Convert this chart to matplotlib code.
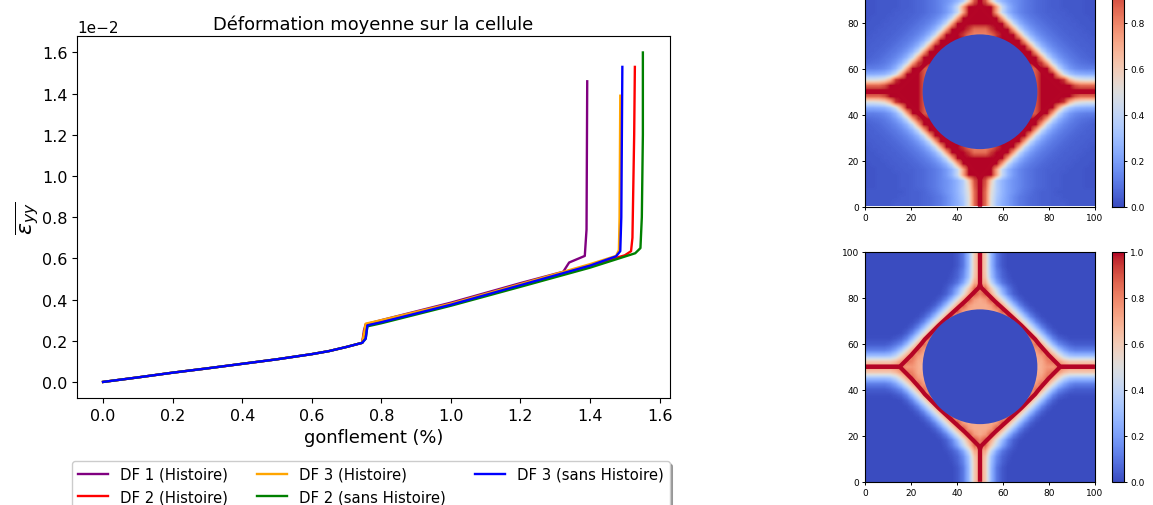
import matplotlib
matplotlib.use('Agg')
import numpy as np
import matplotlib.pyplot as plt
from matplotlib.patches import Circle

W, H = 1153, 506

# courbes, valeurs (deformation en absolu)
x_df1 = [0, 0.1, 0.2, 0.3, 0.4, 0.5, 0.6, 0.65, 0.7, 0.745, 0.75, 0.755, 0.8, 1.0, 1.2, 1.3, 1.323, 1.34, 1.385, 1.39, 1.392]
y_df1 = [0, 0.022, 0.045, 0.066, 0.088, 0.11, 0.135, 0.15, 0.17, 0.19, 0.25, 0.28, 0.30, 0.385, 0.48, 0.525, 0.535, 0.58, 0.612, 0.74, 1.46]
x_df2 = [0, 0.1, 0.2, 0.3, 0.4, 0.5, 0.6, 0.65, 0.7, 0.745, 0.752, 0.755, 0.8, 1.0, 1.2, 1.4, 1.5, 1.518, 1.522, 1.527, 1.529]
y_df2 = [0, 0.022, 0.045, 0.066, 0.088, 0.11, 0.135, 0.15, 0.17, 0.19, 0.25, 0.275, 0.295, 0.378, 0.47, 0.565, 0.615, 0.635, 0.70, 1.20, 1.53]
x_df3 = [0, 0.1, 0.2, 0.3, 0.4, 0.5, 0.6, 0.65, 0.7, 0.745, 0.752, 0.755, 0.8, 1.0, 1.2, 1.4, 1.475, 1.483, 1.485, 1.487]
y_df3 = [0, 0.022, 0.045, 0.066, 0.088, 0.11, 0.135, 0.15, 0.17, 0.19, 0.25, 0.283, 0.30, 0.38, 0.475, 0.572, 0.612, 0.64, 0.80, 1.39]
x_df2s = [0, 0.1, 0.2, 0.3, 0.4, 0.5, 0.6, 0.65, 0.7, 0.745, 0.755, 0.76, 0.8, 1.0, 1.2, 1.4, 1.53, 1.545, 1.549, 1.552, 1.552]
y_df2s = [0, 0.022, 0.045, 0.066, 0.088, 0.11, 0.135, 0.15, 0.17, 0.19, 0.21, 0.27, 0.285, 0.37, 0.462, 0.555, 0.625, 0.65, 0.80, 1.20, 1.60]
x_df3s = [0, 0.1, 0.2, 0.3, 0.4, 0.5, 0.6, 0.65, 0.7, 0.745, 0.755, 0.76, 0.8, 1.0, 1.2, 1.4, 1.475, 1.487, 1.49, 1.493]
y_df3s = [0, 0.022, 0.045, 0.066, 0.088, 0.11, 0.135, 0.15, 0.17, 0.19, 0.21, 0.275, 0.29, 0.375, 0.47, 0.565, 0.61, 0.635, 0.80, 1.53]

noms = ['DF 1 (Histoire)', 'DF 2 (Histoire)', 'DF 3 (Histoire)', 'DF 2 (sans Histoire)', 'DF 3 (sans Histoire)']
couleurs = ['purple', 'red', 'orange', 'green', 'blue']

# champ d'endommagement, quart haut gauche, lignes y=100..50, colonnes x=0..50 (pas 2.5)
champ_haut = [
    [.03, .03, .03, .03, .03, .04, .04, .04, .05, .05, .06, .07, .09, .11, .15, .20, .25, .32, .50, .85, 1.0],
    [.03, .03, .03, .03, .03, .03, .04, .04, .05, .05, .06, .07, .09, .11, .15, .20, .26, .34, .50, .85, 1.0],
    [.03, .03, .03, .03, .03, .03, .03, .04, .05, .05, .06, .08, .10, .13, .17, .21, .27, .36, .52, .85, 1.0],
    [.02, .02, .03, .03, .03, .03, .04, .04, .05, .06, .07, .09, .11, .14, .17, .21, .27, .36, .55, .88, 1.0],
    [.02, .02, .03, .03, .03, .03, .04, .04, .05, .06, .07, .09, .11, .14, .17, .21, .27, .36, .60, .90, 1.0],
    [.02, .02, .03, .03, .03, .03, .04, .04, .05, .06, .07, .09, .11, .14, .19, .27, .42, .72, 1.0, 1.0, 1.0],
    [.02, .02, .03, .03, .03, .04, .04, .05, .05, .06, .07, .09, .11, .14, .19, .27, .42, .72, 1.0, 1.0, 1.0],
    [.02, .03, .03, .03, .04, .04, .05, .05, .06, .07, .09, .11, .14, .19, .27, .42, .72, 1.0, 1.0, 1.0, 1.0],
    [.03, .03, .03, .04, .04, .05, .05, .06, .07, .09, .11, .14, .19, .27, .42, .72, 1.0, 1.0, 1.0, 1.0, 1.0],
    [.03, .03, .04, .04, .05, .05, .06, .07, .09, .11, .14, .19, .27, .42, .72, 1.0, 1.0, 1.0, .95, .85, .85],
    [.03, .04, .04, .05, .05, .06, .07, .09, .11, .14, .19, .27, .42, .72, 1.0, 1.0, 1.0, .95, .85, .80, .80],
    [.04, .04, .05, .05, .06, .07, .09, .11, .14, .19, .27, .42, .72, 1.0, 1.0, 1.0, 1.0, 1.0, .75, .75, .75],
    [.04, .05, .05, .06, .07, .09, .11, .14, .19, .27, .42, .72, 1.0, 1.0, 1.0, 1.0, 1.0, 1.0, .75, .75, .75],
    [.05, .05, .06, .07, .09, .11, .14, .19, .27, .42, .72, 1.0, 1.0, 1.0, 1.0, 1.0, 1.0, 1.0, .75, .75, .75],
    [.05, .06, .07, .09, .11, .14, .19, .27, .42, .72, 1.0, 1.0, 1.0, 1.0, 1.0, 1.0, 1.0, 1.0, .75, .75, .75],
    [.07, .08, .09, .11, .14, .19, .27, .42, .72, .95, 1.0, 1.0, 1.0, 1.0, 1.0, 1.0, 1.0, 1.0, .75, .75, .75],
    [.12, .12, .13, .15, .19, .27, .42, .72, 1.0, 1.0, .90, .85, .75, .75, .75, .75, .75, .75, .75, .75, .75],
    [.24, .24, .25, .27, .33, .45, .72, 1.0, 1.0, 1.0, .90, .80, .75, .75, .75, .75, .75, .75, .75, .75, .75],
    [.48, .48, .50, .55, .68, .95, 1.0, 1.0, 1.0, 1.0, .90, .80, .75, .75, .75, .75, .75, .75, .75, .75, .75],
    [.85, .85, .85, .90, 1.0, 1.0, 1.0, 1.0, 1.0, 1.0, .90, .80, .75, .75, .75, .75, .75, .75, .75, .75, .75],
    [1.0, 1.0, 1.0, 1.0, 1.0, 1.0, 1.0, 1.0, 1.0, 1.0, .90, .80, .72, .72, .72, .72, .72, .72, .72, .72, .72],
]
champ_bas = [
    [.00, .00, .00, .00, .00, .00, .00, .00, .00, .00, .00, .00, .00, .00, .00, .00, .03, .10, .28, .60, .75],
    [.00, .00, .00, .00, .00, .00, .00, .00, .00, .00, .00, .00, .00, .00, .00, .00, .03, .10, .28, .60, .75],
    [.00, .00, .00, .00, .00, .00, .00, .00, .00, .00, .00, .00, .00, .00, .00, .00, .03, .10, .28, .60, .75],
    [.00, .00, .00, .00, .00, .00, .00, .00, .00, .00, .00, .00, .00, .00, .00, .01, .05, .13, .30, .60, .75],
    [.00, .00, .00, .00, .00, .00, .00, .00, .00, .00, .00, .00, .00, .00, .00, .02, .06, .15, .32, .62, .75],
    [.00, .00, .00, .00, .00, .00, .00, .00, .00, .00, .00, .00, .00, .00, .01, .04, .10, .22, .42, .70, .75],
    [.00, .00, .00, .00, .00, .00, .00, .00, .00, .00, .00, .00, .00, .00, .03, .10, .22, .40, .60, .85, .85],
    [.00, .00, .00, .00, .00, .00, .00, .00, .00, .00, .00, .00, .00, .01, .05, .14, .30, .50, .72, .90, .80],
    [.00, .00, .00, .00, .00, .00, .00, .00, .00, .00, .00, .00, .01, .05, .14, .30, .50, .72, .90, .75, .70],
    [.00, .00, .00, .00, .00, .00, .00, .00, .00, .00, .00, .01, .05, .14, .30, .50, .72, .90, .75, .70, .70],
    [.00, .00, .00, .00, .00, .00, .00, .00, .00, .00, .01, .05, .14, .30, .50, .72, .90, .75, .70, .70, .70],
    [.00, .00, .00, .00, .00, .00, .00, .00, .00, .01, .05, .14, .30, .50, .72, .90, .75, .70, .70, .70, .70],
    [.00, .00, .00, .00, .00, .00, .00, .00, .01, .05, .14, .30, .50, .72, .90, .75, .70, .70, .70, .70, .70],
    [.00, .00, .00, .00, .00, .00, .00, .01, .05, .14, .30, .50, .72, .90, .75, .70, .70, .70, .70, .70, .70],
    [.00, .00, .00, .00, .00, .00, .01, .05, .14, .30, .50, .72, .85, .75, .70, .70, .70, .70, .70, .70, .70],
    [.01, .01, .01, .01, .01, .03, .06, .14, .30, .50, .72, .85, .75, .70, .70, .70, .70, .70, .70, .70, .70],
    [.04, .04, .04, .04, .06, .10, .16, .30, .50, .72, .85, .75, .70, .70, .70, .70, .70, .70, .70, .70, .70],
    [.12, .12, .12, .12, .15, .22, .34, .52, .72, .85, .75, .70, .70, .70, .70, .70, .70, .70, .70, .70, .70],
    [.30, .30, .30, .30, .32, .40, .55, .72, .85, .75, .70, .70, .70, .70, .70, .70, .70, .70, .70, .70, .70],
    [.60, .60, .60, .60, .60, .65, .75, .85, .80, .70, .70, .70, .70, .70, .70, .70, .70, .70, .70, .70, .70],
    [.75, .75, .75, .75, .75, .80, .85, .75, .75, .70, .65, .65, .65, .65, .65, .65, .65, .65, .65, .65, .65],
]
# trace de la fissure, quart haut gauche
fissure_bas_x = [0, 15, 20, 24, 26, 32, 38, 43.5, 49.5, 50, 50]
fissure_bas_y = [50, 50, 55, 59.5, 62, 68, 73.5, 78.5, 84.5, 86, 100]
fissure_haut_x = [0, 14, 26, 38, 49, 50, 50]
fissure_haut_y = [50, 50, 62, 74, 86, 88, 100]

ticks_champ = [0, 20, 40, 60, 80, 100]
ticks_cb = [0.0, 0.2, 0.4, 0.6, 0.8, 1.0]
rayon_trou = 25
rouge = plt.get_cmap('coolwarm')(1.0)
bleu = plt.get_cmap('coolwarm')(0.0)


def boite(g, h, d, b):
    # position en pixels de l'image -> coordonnees figure
    return [g / W, 1 - b / H, (d - g) / W, (b - h) / H]


def symetrise(q):
    q = np.array(q)
    haut = np.hstack([q, q[:, -2::-1]])
    return np.vstack([haut, haut[-2::-1]])


def dessine_champ(fig, q, fx, fy, lw, haut, bas):
    ax = fig.add_axes(boite(865, haut, 1095, bas))
    im = ax.imshow(symetrise(q), cmap='coolwarm', vmin=0, vmax=1, extent=[0, 100, 0, 100],
                   origin='upper', interpolation='bilinear')
    # les 4 quarts de la fissure
    fx, fy = np.array(fx), np.array(fy)
    for sx, sy in [(fx, fy), (100 - fx, fy), (fx, 100 - fy), (100 - fx, 100 - fy)]:
        ax.plot(sx, sy, color=rouge, lw=lw, solid_capstyle='butt')
    ax.add_patch(Circle((50, 50), rayon_trou, color=bleu, lw=0, zorder=3))
    ax.set_xlim(0, 100)
    ax.set_ylim(0, 100)
    ax.set_xticks(ticks_champ)
    ax.set_yticks(ticks_champ)
    ax.tick_params(labelsize=6.5, length=2.5, width=0.7, pad=2)
    cax = fig.add_axes(boite(1112, haut, 1124, bas))
    cb = fig.colorbar(im, cax=cax)
    cb.set_ticks(ticks_cb)
    cb.ax.tick_params(labelsize=6.5, length=2.5, width=0.7, pad=2)
    cb.set_label(r'$\phi$', fontsize=8, labelpad=8)


fig = plt.figure(figsize=(W / 100, H / 100), dpi=100)

ax = fig.add_axes(boite(77, 37, 670, 399))
courbes = [(x_df1, y_df1), (x_df2, y_df2), (x_df3, y_df3), (x_df2s, y_df2s), (x_df3s, y_df3s)]
for (cx, cy), nom, c in zip(courbes, noms, couleurs):
    ax.plot(cx, np.array(cy) * 1e-2, color=c, lw=1.7, label=nom)
ax.set_xlim(-0.075, 1.63)
ax.set_ylim(-0.00078, 0.0168)
ax.ticklabel_format(axis='y', style='sci', scilimits=(-2, -2))
ax.yaxis.get_offset_text().set_fontsize(11)
ax.tick_params(labelsize=11.5)
ax.set_title('Déformation moyenne sur la cellule', fontsize=12.9, pad=5)
ax.set_xlabel('gonflement (%)', fontsize=12.9)
ax.set_ylabel(r'$\overline{\varepsilon_{yy}}$', fontsize=16, labelpad=0)
ax.legend(loc='upper left', bbox_to_anchor=(72 / W, 1 - 462 / H), bbox_transform=fig.transFigure,
          ncol=3, fontsize=10.7, shadow=True, borderaxespad=0)

dessine_champ(fig, champ_haut, fissure_haut_x, fissure_haut_y, 3.0, -22, 207.5)
dessine_champ(fig, champ_bas, fissure_bas_x, fissure_bas_y, 3.0, 253, 482.5)

fig.savefig('out.png', dpi=100)
